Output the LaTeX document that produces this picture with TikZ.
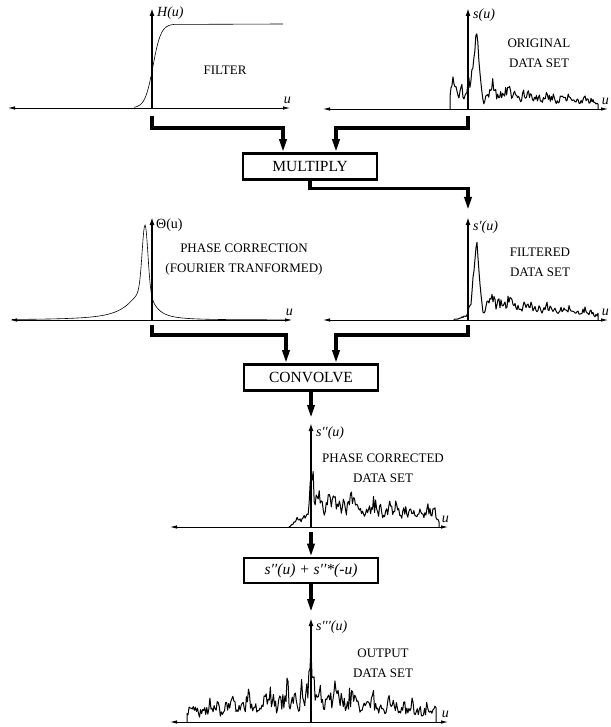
\documentclass[tikz,border=0pt]{standalone}
\usepackage{fontspec}
\setmainfont{Liberation Serif}
\usepackage{tikz}
\usetikzlibrary{
  arrows.meta,
  positioning,
  calc
}
\tikzset{
  axisline/.style={line width=0.8pt,{Latex[length=7pt,width=3.5pt]}-{Latex[length=7pt,width=3.5pt]}},
  vaxis/.style={line width=1.8pt,-{Latex[length=8pt,width=5pt]}},
  flow/.style={line width=3.2pt,line join=miter,-{Triangle[length=13pt,width=7pt]}},
  opbox/.style={draw,line width=2.6pt,minimum width=134pt,minimum height=26pt,inner sep=0pt,font=\fontsize{15.5}{17}\selectfont},
  caption/.style={align=center,font=\fontsize{13}{20}\selectfont},
  fnlabel/.style={anchor=west,inner sep=0pt,font=\fontsize{14}{16}\selectfont\itshape},
  signal/.style={line width=1pt,line join=round},
  smoothsig/.style={line width=0.6pt}
}
\newcommand{\uaxes}[6]{%
  \coordinate (#1) at (#2,#3);%
  \coordinate (#1l) at (#2-#4,#3);%
  \coordinate (#1r) at (#2+#5,#3);%
  \coordinate (#1t) at (#2,#3-#6);%
  \draw[axisline] (#1l) -- (#1r);%
  \draw[vaxis] (#1) -- (#1t);%
  \node[font=\fontsize{14}{16}\selectfont\itshape,inner sep=0pt,anchor=south east] (#1u) at ($(#1r)+(1,-4)$) {u};%
}

\begin{document}
\begin{tikzpicture}[x=1pt,y=-1pt,
  declare function={
    sigm(\x)=1/(1+exp(-(\x-1)/4));
    tri(\x)=max(0,64*(1-abs(\x-9)/6.5));
    wob(\x)=1+0.2*sin(\x*19)+0.15*sin(\x*47+30);
    orig(\x)=(\x<0) ? 19 : 23*exp(-\x/110)*(1-0.95*exp(-((\x-13)/5)^2));
    theta(\x)=65*exp(-((\x+7)/4)^2)+((\x<-7) ? 30/(1+((\x+7)/18)^2) : 30/(1+((\x+7)/10)^2));
    pcor(\x)=(\x<0) ? 16*(\x+22)/22 : 27*exp(-\x/170);
    outp(\x)=28*exp(-abs(\x)/130);
  }]
  \useasboundingbox (0,0) rectangle (610,727);
  \pgfmathsetseed{4711}

  \uaxes{o1}{152}{108}{144}{138}{100}
  \uaxes{o2}{468}{109}{145}{140}{101}
  \uaxes{o3}{152}{320}{142}{140}{103}
  \uaxes{o4}{468}{320}{145}{140}{103}
  \uaxes{o5}{311}{527}{141}{137}{104}
  \uaxes{o6}{311}{722}{141}{137}{104}

  \begin{scope}[shift={(o1)}]
    \draw[smoothsig] plot[domain=-18:22,samples=80] (\x,{-84*sigm(\x)}) -- (131,-84);
  \end{scope}
  \begin{scope}[shift={(o2)}]
    \draw[signal] (-18,0) -- plot[domain=-18:130,samples=150] (\x,{-(orig(\x)*wob(\x)*(1+0.35*rand)+tri(\x))}) -- (130,0);
  \end{scope}
  \begin{scope}[shift={(o3)}]
    \draw[smoothsig] plot[domain=-140:138,samples=400] (\x,{-theta(\x)});
  \end{scope}
  \begin{scope}[shift={(o4)}]
    \draw[signal] (-14,0) -- plot[domain=-14:130,samples=145] (\x,{-(orig(\x)*sigm(\x)*wob(\x)*(1+0.35*rand)+tri(\x))}) -- (130,0);
  \end{scope}
  \begin{scope}[shift={(o5)}]
    \draw[signal] (-22,0) -- plot[domain=-22:128,samples=150] (\x,{-(pcor(\x)*wob(\x)*(1+0.4*rand)+32*exp(-(\x/2)^2))}) -- (128,0);
  \end{scope}
  \begin{scope}[shift={(o6)}]
    \draw[signal] (-124,0) -- plot[domain=-124:125,samples=240] (\x,{-(outp(\x)*wob(abs(\x))*(1+0.45*rand)+30*exp(-(\x/2.5)^2))}) -- (125,0);
  \end{scope}

  \node[fnlabel] (hlab) at ($(o1t)+(5,5)$) {H(u)};
  \node[fnlabel] (slab) at ($(o2t)+(5,7)$) {s(u)};
  \node[fnlabel] (thlab) at ($(o3t)+(4,8)$) {\upshape Θ(u)};
  \node[fnlabel] (s1lab) at ($(o4t)+(5,10)$) {s′(u)};
  \node[fnlabel] (s2lab) at ($(o5t)+(5,10)$) {s′′(u)};
  \node[fnlabel] (s3lab) at ($(o6t)+(5,9)$) {s′′′(u)};

  \node[caption] (filtertxt) at (225,70) {FILTER};
  \node[caption] (origtxt) at (539,53) {ORIGINAL\\DATA SET};
  \node[caption] (phasetxt) at (244,260) {PHASE CORRECTION\\(FOURIER TRANFORMED)};
  \node[caption] (filttxt) at (540,262) {FILTERED\\DATA SET};
  \node[caption] (pctxt) at (383,468) {PHASE CORRECTED\\DATA SET};
  \node[caption] (outtxt) at (383,663) {OUTPUT\\DATA SET};

  \node[opbox] (mult) at (310,166.5) {MULTIPLY};
  \node[opbox] (conv) at (311,377.5) {CONVOLVE};
  \node[opbox,minimum height=25pt] (sum) at (311,570.5) {\itshape s′′(u) + s′′*(-u)};

  \coordinate (f1) at ($(o1)+(0,8)$);
  \coordinate (f2) at ($(o2)+(0,7)$);
  \coordinate (f3) at ($(o3)+(0,5)$);
  \coordinate (f4) at ($(o4)+(0,5)$);
  \coordinate (f5) at ($(o5)+(0,5)$);
  \coordinate (in4) at ($(o4t)+(0,-7)$);
  \coordinate (in5) at ($(o5t)+(0,-5)$);
  \coordinate (in6) at ($(o6t)+(0,-6)$);

  \draw[flow] (f1) -- ++(0,12) -| ([xshift=-27pt]mult.north);
  \draw[flow] (f2) -- ++(0,12) -| ([xshift=26pt]mult.north);
  \draw[flow] (mult.south) -- ++(0,8) -| (in4);
  \draw[flow] (f3) -- ++(0,10) -| ([xshift=-25pt]conv.north);
  \draw[flow] (f4) -- ++(0,10) -| ([xshift=25pt]conv.north);
  \draw[flow] (conv.south) -- (in5);
  \draw[flow] (f5) -- (sum.north);
  \draw[flow] (sum.south) -- (in6);
\end{tikzpicture}
\end{document}
